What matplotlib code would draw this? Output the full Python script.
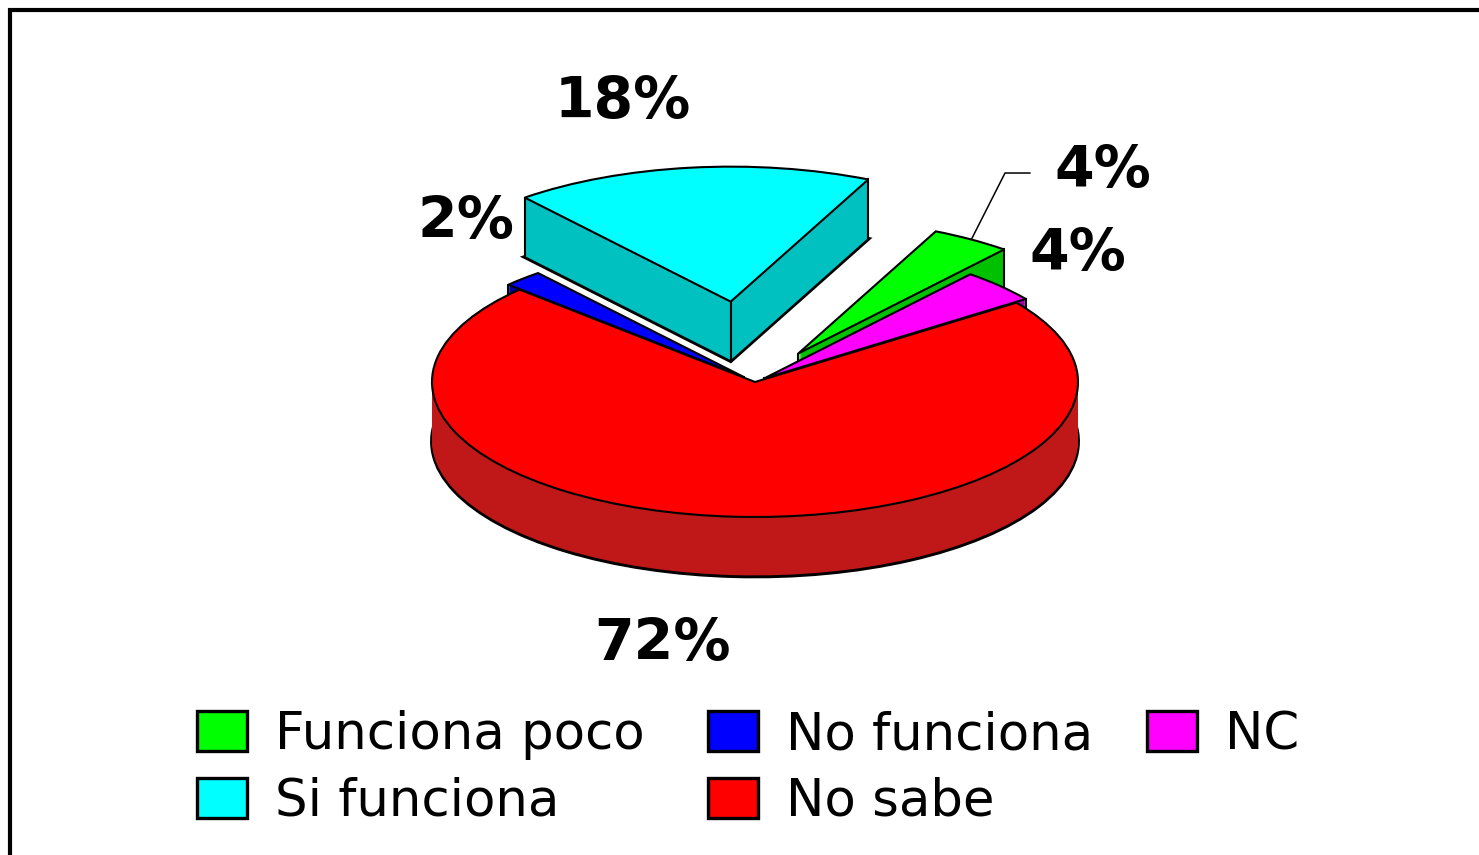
import matplotlib
matplotlib.use("Agg")
import matplotlib.pyplot as plt
from matplotlib.patches import Patch, Rectangle
import numpy as np

# ---------------- data ----------------
slice_names = ["NC", "Funciona poco", "Si funciona", "No funciona", "No sabe"]
slice_values = [4, 4, 18, 2, 72]
slice_pct_text = ["4%", "4%", "18%", "2%", "72%"]
legend_columns = [["Funciona poco", "Si funciona"], ["No funciona", "No sabe"], ["NC"]]

# ---------------- style / layout ----------------
top_colors = {"NC": "#FF00FF", "Funciona poco": "#00FF00", "Si funciona": "#00FFFF",
              "No funciona": "#0000FF", "No sabe": "#FF0000"}
side_colors = {"NC": "#A000A0", "Funciona poco": "#00C000", "Si funciona": "#00C0C0",
               "No funciona": "#0000A0", "No sabe": "#C01818"}
explode = [0.04, 0.25, 0.60, 0.05, 0.0]
start_angle = 36
depth = 0.44
label_xy = [(1.00, 0.948), (1.077, 1.556), (-0.409, 2.074), (-0.895, 1.185), (-0.285, -1.948)]
leader_index = 1

W, H = 1479, 855
fig = plt.figure(figsize=(W / 100, H / 100), dpi=100)
ax = fig.add_axes([0, 0, 1, 1])

# top faces
top_wedges, _ = ax.pie(slice_values, explode=explode, startangle=start_angle,
                       colors=[top_colors[n] for n in slice_names], radius=1.0,
                       center=(0, 0), frame=True,
                       wedgeprops=dict(edgecolor="black", linewidth=1.5, zorder=3))

# side walls (stacked layers)
n_layers = 60
for k, d in enumerate(np.linspace(-depth, 0, n_layers, endpoint=False)):
    ax.pie(slice_values, explode=explode, startangle=start_angle,
           colors=[side_colors[n] for n in slice_names], radius=1.0,
           center=(0, d), frame=True,
           wedgeprops=dict(edgecolor="black" if k == 0 else "none",
                           linewidth=2.8 if k == 0 else 0, zorder=1))

# visible vertical edges
for w in top_wedges:
    cx, cy = w.center
    r = w.r
    t1, t2 = np.deg2rad(w.theta1), np.deg2rad(w.theta2)
    pts = []
    if np.cos(t1) > 0 or np.cos(t2) < 0:
        pts.append((cx, cy))
    if np.cos(t1) > 0 or np.sin(t1) < 0:
        pts.append((cx + r * np.cos(t1), cy + r * np.sin(t1)))
    if np.cos(t2) < 0 or np.sin(t2) < 0:
        pts.append((cx + r * np.cos(t2), cy + r * np.sin(t2)))
    for x, y in pts:
        ax.plot([x, x], [y, y - depth], color="black", lw=1.5, zorder=2)

# percentage labels
for txt, (x, y) in zip(slice_pct_text, label_xy):
    ax.text(x, y, txt, ha="center", va="center", fontsize=41, fontweight="bold",
            family="DejaVu Sans", zorder=5)

# leader line for "Funciona poco"
w = top_wedges[leader_index]
mid = np.deg2rad((w.theta1 + w.theta2) / 2)
sx, sy = w.center[0] + w.r * np.cos(mid), w.center[1] + w.r * np.sin(mid)
lx, ly = label_xy[leader_index]
ax.plot([sx, lx - 0.303, lx - 0.226], [sy, ly - 0.008, ly - 0.008],
        color="black", lw=1.1, zorder=5)

ax.set_xlim(-755 / 323, (W - 755) / 323)
ax.set_ylim(-(H - 382) / 135, 382 / 135)
ax.set_aspect("auto")
ax.set_axis_off()

# legend, one legend per column
col_x = [197, 708, 1147]
fs = 37
for cx_px, names in zip(col_x, legend_columns):
    handles = [Patch(facecolor=top_colors[n], edgecolor="black", linewidth=2.4) for n in names]
    fig.legend(handles, names, loc="upper left",
               bbox_to_anchor=(cx_px / W, 1 - 710 / H),
               frameon=False, prop=dict(family="DejaVu Sans", size=fs),
               handlelength=0.97, handleheight=0.82, handletextpad=0.55,
               labelspacing=0.33, borderpad=0, borderaxespad=0)

# figure border (cut off at right / bottom)
fig.add_artist(Rectangle((10 / W, -0.2), 1.5, 1.2 - 10 / H, transform=fig.transFigure,
                         fill=False, edgecolor="black", linewidth=3, clip_on=False))

fig.savefig("out.png", dpi=100)
